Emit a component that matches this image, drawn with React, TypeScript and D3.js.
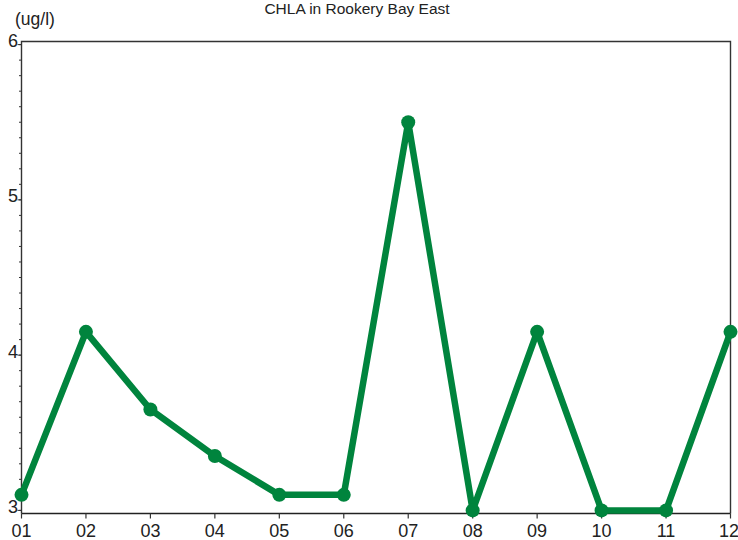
import React from "react";
import * as d3 from "d3";

const months = ["01", "02", "03", "04", "05", "06", "07", "08", "09", "10", "11", "12"];
const chla = [3.1, 4.15, 3.65, 3.35, 3.1, 3.1, 5.5, 3.0, 4.15, 3.0, 3.0, 4.15];
const yMajorTicks = [3, 4, 5, 6];
const title = "CHLA in Rookery Bay East";
const unitLabel = "(ug/l)";

const W = 738;
const H = 540;
const left = 21.5;
const right = 730.5;
const top = 41.5;
const bottom = 513.5;
const color = "#00843d";
const font = "'Liberation Sans', Arial, Helvetica, sans-serif";

export default function App() {
  const x = d3.scalePoint<string>().domain(months).range([left, right]);
  const y = d3.scaleLinear().domain([2.98, 6.02]).range([bottom, top]);
  const minor = d3.range(30, 61).map((v) => v / 10);
  const line = d3
    .line<number>()
    .x((_, i) => x(months[i]) as number)
    .y((d) => y(d));

  return (
    <svg
      width={W}
      height={H}
      style={{ position: "absolute", left: 0, top: 0, fontFamily: font }}
    >
      <rect x={0} y={0} width={W} height={H} fill="#fff" />
      <text x={357} y={14} textAnchor="middle" fontSize={15.5} fill="#222">
        {title}
      </text>
      <text x={15} y={25} fontSize={17.5} fill="#222">
        {unitLabel}
      </text>
      {/* frame */}
      <path
        d={`M${left},${bottom} L${left},${top} L${right},${top} L${right},${bottom}`}
        fill="none"
        stroke="#333"
        strokeWidth={1.4}
      />
      <line x1={left} x2={right} y1={bottom} y2={bottom} stroke="#222" strokeWidth={1.4} />
      {/* y minor ticks */}
      {minor.map((v, i) => (
        <line
          key={"m" + i}
          x1={left - 2.5}
          x2={left}
          y1={y(v)}
          y2={y(v)}
          stroke="#333"
          strokeWidth={1}
        />
      ))}
      {yMajorTicks.map((v) => (
        <g key={"y" + v}>
          <line x1={left - 4} x2={left} y1={y(v)} y2={y(v)} stroke="#333" strokeWidth={1} />
          <text
            x={left - 3.5}
            y={y(v) + 2.5}
            textAnchor="end"
            fontSize={18}
            fill="#222"
          >
            {v}
          </text>
        </g>
      ))}
      {months.map((m, i) => (
        <g key={"x" + m}>
          <line
            x1={x(m)}
            x2={x(m)}
            y1={bottom}
            y2={bottom + 5}
            stroke="#333"
            strokeWidth={1.2}
          />
          <text
            x={(x(m) as number) - (i === months.length - 1 ? 1.5 : 0)}
            y={537}
            textAnchor="middle"
            fontSize={18}
            fill="#222"
          >
            {m}
          </text>
        </g>
      ))}
      <path
        d={line(chla) || ""}
        fill="none"
        stroke={color}
        strokeWidth={6.5}
        strokeLinejoin="round"
      />
      {chla.map((v, i) => (
        <circle key={"c" + i} cx={x(months[i])} cy={y(v)} r={7} fill={color} />
      ))}
    </svg>
  );
}
